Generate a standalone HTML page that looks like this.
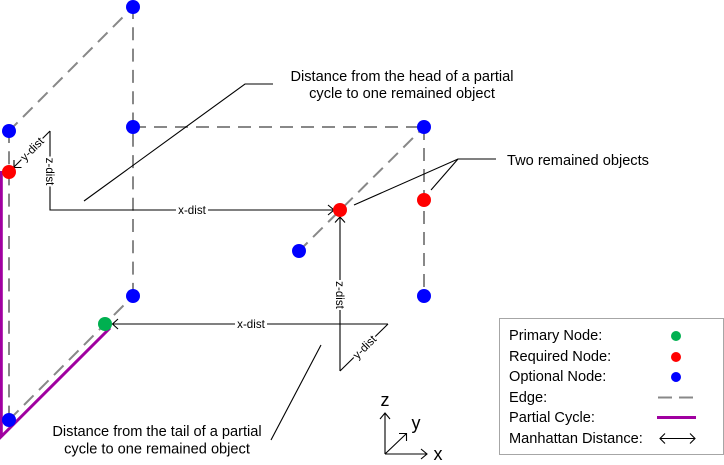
<!DOCTYPE html>
<html>
<head>
<meta charset="utf-8">
<style>
html,body{margin:0;padding:0;background:#fff;width:724px;height:465px;overflow:hidden}
svg{display:block}
text{font-family:"Liberation Sans",sans-serif;fill:#000}
.e{stroke:#888;stroke-width:2;fill:none;stroke-dasharray:13 8}
.d{stroke:#888;stroke-width:2;fill:none;stroke-dasharray:13.500 7.700}
.k{stroke:#000;stroke-width:1.1;fill:none}
.a{stroke:#000;stroke-width:1.1;fill:none}
.t{font-size:14.6px;text-anchor:middle}
.l{font-size:14.6px}
.s{font-size:11.6px;text-anchor:middle}
.ax{font-size:18px;text-anchor:middle}
</style>
</head>
<body>
<svg width="724" height="465" viewBox="0 0 724 465" xmlns="http://www.w3.org/2000/svg">
<!-- edges -->
<path class="d" d="M8 132L133 7"/>
<path class="e" style="stroke-dasharray:13 8.300" d="M133 6V296"/>
<path class="e" style="stroke-dasharray:13 8.200" d="M9 130V420"/>
<path class="e" d="M133 127H424"/>
<path class="d" d="M298 252L424 127"/>
<path class="e" d="M424 127V296"/>
<path class="d" d="M9 420L133 296"/>
<!-- partial cycle -->
<path d="M1.300 171V436.500L110 328" stroke="#a000a0" stroke-width="3" fill="none"/>
<!-- distance lines -->
<path class="k" d="M50 131L14 167"/>
<path class="a" d="M14 160V167.500H21.500"/>
<path class="k" d="M50 131V210H334"/>
<path class="a" d="M328 205L334 210L328 215"/>
<path class="k" d="M388 324H112.500"/>
<path class="a" d="M118 319L112.500 324L118 329"/>
<path class="k" d="M340 371V217"/>
<path class="a" d="M335 222.500L340 217L345 222.500"/>
<path class="k" d="M340 371L388 324"/>
<!-- leaders -->
<path class="k" d="M84 201L245 84H273"/>
<path class="k" d="M354 205L458 159H496"/>
<path class="k" d="M431 190L458 159"/>
<path class="k" d="M321 345L271 440"/>
<!-- rotated labels -->
<g transform="translate(32,149) rotate(-45)"><rect x="-15" y="-6" width="30" height="12" fill="#fff"/><text class="s" y="4">y-dist</text></g>
<g transform="translate(50,171.500) rotate(90)"><rect x="-15" y="-6" width="30" height="12" fill="#fff"/><text class="s" y="4">z-dist</text></g>
<rect x="176" y="204" width="32" height="12" fill="#fff"/><text class="s" x="192" y="214">x-dist</text>
<rect x="235" y="318" width="32" height="12" fill="#fff"/><text class="s" x="251" y="328">x-dist</text>
<g transform="translate(340,295) rotate(90)"><rect x="-15" y="-6" width="30" height="12" fill="#fff"/><text class="s" y="4">z-dist</text></g>
<g transform="translate(364.500,347) rotate(-45)"><rect x="-15" y="-6" width="30" height="12" fill="#fff"/><text class="s" y="4">y-dist</text></g>
<!-- nodes -->
<g fill="#0000ff">
<circle cx="133" cy="7" r="7"/><circle cx="9" cy="131" r="7"/><circle cx="133" cy="127" r="7"/>
<circle cx="424" cy="127" r="7"/><circle cx="299" cy="251" r="7"/><circle cx="424" cy="296" r="7"/>
<circle cx="133" cy="296" r="7"/><circle cx="9" cy="420" r="7"/>
</g>
<g fill="#ff0000">
<circle cx="9" cy="172" r="7"/><circle cx="340" cy="210" r="7"/><circle cx="424" cy="200" r="7"/>
</g>
<circle cx="105" cy="324" r="7" fill="#00b050"/>
<!-- annotations -->
<text class="t" x="402" y="81">Distance from the head of a partial</text>
<text class="t" x="402" y="98">cycle to one remained object</text>
<text class="l" x="507" y="165">Two remained objects</text>
<text class="t" x="157" y="436">Distance from the tail of a partial</text>
<text class="t" x="157" y="453.500">cycle to one remained object</text>
<!-- axes -->
<path class="k" d="M385 454V414M385 454H427M385 454L406 434"/>
<path class="a" d="M380 419L385 413L390 419M421 449L427 454L421 459M399 433.500H406.500V441"/>
<text class="ax" x="385" y="406">z</text>
<text class="ax" x="416" y="429">y</text>
<text class="ax" x="438" y="460">x</text>
<!-- legend -->
<rect x="499.500" y="318.500" width="224" height="136" fill="#fff" stroke="#a6a6a6" stroke-width="1"/>
<text class="l" x="509" y="340">Primary Node:</text>
<text class="l" x="509" y="361">Required Node:</text>
<text class="l" x="509" y="381">Optional Node:</text>
<text class="l" x="509" y="402">Edge:</text>
<text class="l" x="509" y="422">Partial Cycle:</text>
<text class="l" x="509" y="443">Manhattan Distance:</text>
<circle cx="676" cy="336" r="5" fill="#00b050"/>
<circle cx="676" cy="357" r="5" fill="#ff0000"/>
<circle cx="676" cy="377" r="5" fill="#0000ff"/>
<path d="M658 397.500H672M679 397.500H693" stroke="#888" stroke-width="2" fill="none"/>
<path d="M657 417.500H696" stroke="#a000a0" stroke-width="3" fill="none"/>
<path class="k" d="M660 438.500H695"/>
<path class="a" d="M665 433.500L660 438.500L665 443.500M690 433.500L695 438.500L690 443.500"/>
</svg>
</body>
</html>
